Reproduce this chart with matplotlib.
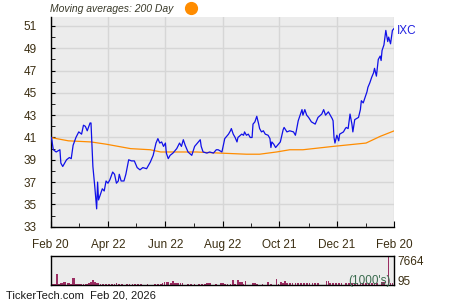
import numpy as np
import matplotlib
matplotlib.use('Agg')
import matplotlib.pyplot as plt
from matplotlib.lines import Line2D

plt.rcParams['font.family'] = ['Liberation Sans', 'DejaVu Sans']

start = np.datetime64('2025-02-20')

# closing price (days after start, price)
price_days = [1, 3, 6, 10, 11, 13, 17, 20, 22, 24, 27, 30, 33, 35, 37, 39, 42, 43, 45, 47,
              49, 50, 51, 53, 55, 57, 59, 61, 63, 66, 68, 70, 72, 73, 75, 78, 80, 83, 86, 89,
              92, 95, 98, 102, 106, 109, 112, 114, 116, 118, 120, 122, 123, 125, 127, 130, 134, 137, 139, 141,
              143, 146, 150, 153, 156, 159, 160, 162, 166, 169, 173, 176, 178, 182, 185, 189, 191, 192, 194, 196,
              198, 199, 203, 205, 206, 208, 210, 212, 214, 215, 217, 219, 221, 222, 224, 226, 228, 231, 233, 234,
              235, 237, 239, 242, 244, 247, 248, 251, 254, 258, 260, 261, 263, 267, 268, 270, 272, 274, 277, 281,
              284, 288, 290, 292, 295, 299, 300, 301, 302, 304, 306, 307, 311, 313, 314, 316, 318, 320, 321, 323,
              325, 327, 329, 330, 332, 334, 336, 337, 339, 341, 343, 344, 346, 348, 350, 351, 352, 354, 356, 358,
              359, 361, 363, 365]
price = [41.0, 39.9, 39.7, 39.9, 38.7, 38.4, 39.0, 39.2, 39.1, 40.3, 41.0, 41.5, 41.3, 42.1, 42.0, 41.6, 42.3, 42.3, 38.4, 36.6,
         34.6, 37.0, 35.4, 35.9, 36.4, 36.2, 37.1, 36.9, 37.2, 37.9, 37.7, 36.9, 37.1, 37.7, 37.1, 37.1, 37.7, 39.0, 38.9, 38.9,
         38.3, 38.1, 38.3, 38.2, 38.8, 39.4, 40.5, 40.9, 40.5, 40.6, 40.2, 40.5, 39.6, 39.1, 39.4, 39.6, 40.0, 40.5, 40.2, 40.8,
         40.3, 39.7, 39.4, 40.2, 40.5, 40.8, 40.2, 39.7, 39.6, 39.7, 39.6, 39.9, 39.9, 39.7, 40.9, 41.3, 41.6, 41.8, 41.3, 41.0,
         40.6, 41.0, 41.3, 41.2, 41.5, 41.2, 41.3, 41.0, 41.0, 42.2, 42.4, 42.9, 42.2, 41.8, 41.5, 41.6, 41.3, 41.2, 40.9, 40.1,
         40.6, 40.4, 40.1, 40.4, 40.6, 41.7, 41.9, 41.5, 41.6, 41.5, 41.2, 41.6, 42.5, 43.5, 43.0, 43.5, 43.0, 42.8, 42.4, 42.2,
         42.8, 43.1, 43.5, 43.0, 43.3, 42.7, 42.5, 41.0, 40.5, 41.2, 40.7, 41.3, 41.5, 41.8, 41.9, 41.8, 43.1, 42.2, 41.5, 42.6,
         42.7, 42.8, 43.5, 44.3, 44.1, 44.6, 45.1, 45.5, 45.9, 46.4, 46.8, 47.2, 46.5, 48.0, 48.3, 47.9, 48.8, 49.3, 50.6, 49.6,
         50.0, 49.4, 50.6, 50.8]

# 200 day moving average
ma_days = [0, 19, 43, 59, 85, 106, 117, 155, 180, 208, 222, 240, 254, 268, 300, 335, 350, 365]
ma = [41.0, 40.7, 40.6, 40.4, 40.0, 39.9, 39.7, 39.7, 39.6, 39.5, 39.5, 39.7, 39.9, 39.9, 40.2, 40.5, 41.1, 41.6]

# volume in thousands
vol_days = [0, 2, 4, 6, 7, 9, 11, 13, 14, 16, 18, 20, 22, 24, 25, 27, 29, 31, 33, 35,
            37, 39, 41, 43, 45, 47, 49, 51, 53, 56, 59, 62, 65, 68, 70, 73, 76, 81, 84, 87,
            90, 93, 96, 103, 111, 114, 117, 119, 121, 123, 125, 128, 130, 132, 134, 136, 138, 140, 146, 149,
            153, 158, 161, 164, 166, 168, 170, 176, 181, 183, 185, 188, 191, 194, 196, 199, 201, 203, 205, 207,
            215, 217, 219, 225, 231, 234, 240, 242, 245, 247, 249, 251, 254, 257, 260, 263, 266, 269, 272, 275,
            278, 281, 284, 293, 295, 297, 300, 303, 306, 309, 314, 317, 320, 323, 326, 329, 332, 335, 338, 341,
            344, 347, 352, 354, 359, 361, 363]
volume = [250, 250, 250, 250, 2800, 250, 600, 650, 850, 700, 600, 550, 250, 1800, 1800, 250, 250, 250, 250, 250,
          250, 250, 400, 850, 1200, 900, 600, 550, 250, 250, 250, 250, 250, 250, 400, 250, 250, 250, 250, 250,
          250, 250, 250, 250, 250, 250, 250, 500, 900, 900, 900, 500, 1000, 400, 550, 550, 400, 400, 250, 250,
          250, 250, 250, 250, 400, 400, 400, 250, 400, 400, 250, 250, 250, 1400, 300, 1200, 750, 750, 300, 1000,
          500, 500, 300, 250, 750, 250, 1700, 300, 750, 600, 950, 550, 500, 600, 450, 550, 600, 500, 550, 450,
          550, 600, 500, 950, 950, 450, 450, 400, 500, 450, 550, 500, 600, 550, 450, 550, 600, 500, 550, 600,
          500, 400, 750, 750, 7664, 400, 400]

tick_dates = ['2025-02-20', '2025-04-22', '2025-06-22', '2025-08-22', '2025-10-21', '2025-12-21', '2026-02-20']
tick_labels = ['Feb 20', 'Apr 22', 'Jun 22', 'Aug 22', 'Oct 21', 'Dec 21', 'Feb 20']
minor_dates = ['2025-03-22', '2025-05-22', '2025-07-22', '2025-09-21', '2025-11-21', '2026-01-21']
y_ticks = [33, 35, 37, 39, 41, 43, 45, 47, 49, 51]

txt = '#3b2e12'

fig = plt.figure(figsize=(4.5, 3), dpi=100)
ax = fig.add_axes([50.5 / 450, 73.3 / 300, 343.8 / 450, 210 / 300])
ax.set_facecolor('#ececec')

x_price = start + np.array(price_days).astype('timedelta64[D]')
x_ma = start + np.array(ma_days).astype('timedelta64[D]')
ax.plot(x_ma, ma, color='#ff8c00', lw=0.9, zorder=3)
ax.plot(x_price, price, color='#1010e8', lw=0.9, zorder=4)

ax.set_xlim(np.datetime64(tick_dates[0]), np.datetime64(tick_dates[-1]))
ax.set_ylim(33, 51.83)
ax.set_xticks([np.datetime64(d) for d in tick_dates])
ax.set_xticklabels(tick_labels)
ax.set_xticks([np.datetime64(d) for d in minor_dates], minor=True)
ax.set_yticks(y_ticks)
ax.set_yticks(np.arange(34, 52, 2), minor=True)
ax.grid(True, which='major', color='#d6d6d6', lw=1)
ax.set_axisbelow(True)
for s in ['top', 'right']:
    ax.spines[s].set_visible(False)
for s in ['left', 'bottom']:
    ax.spines[s].set_color('black')
    ax.spines[s].set_linewidth(1)
ax.tick_params(which='both', direction='in', colors='black', labelcolor=txt, labelsize=8.5)
ax.tick_params(axis='x', which='major', length=4, pad=9)
ax.tick_params(axis='x', which='minor', length=3)
ax.tick_params(axis='y', which='major', length=3, pad=10)
ax.tick_params(axis='y', which='minor', length=3)

# volume panel
vax = fig.add_axes([50.5 / 450, 15 / 300, 343.8 / 450, 29 / 300])
vax.set_facecolor('#ececec')
x_vol = start + np.array(vol_days).astype('timedelta64[D]')
vax.bar(x_vol, volume, width=1.8, color='#9b2d62', align='center')
vax.set_xlim(np.datetime64(tick_dates[0]), np.datetime64(tick_dates[-1]))
vax.set_ylim(0, max(volume))
vax.set_xticks([])
vax.set_yticks([])
for s in vax.spines.values():
    s.set_color('black')
    s.set_linewidth(1)
vax.text(1.008, 0.8, str(max(volume)), transform=vax.transAxes, fontsize=8.5, color=txt, va='center', ha='left')
vax.text(1.008, 0.12, '95', transform=vax.transAxes, fontsize=8.5, color=txt, va='center', ha='left')
vax.text(0.99, 0.15, "(1000's)", transform=vax.transAxes, fontsize=8.5, color='#3a6b4e', va='center', ha='right')

fig.text(50 / 450, 1 - 9 / 300, 'Moving averages: 200 Day', fontsize=7.5, style='italic', color='#3a3a2a',
         ha='left', va='center')
fig.add_artist(Line2D([191 / 450], [1 - 8 / 300], marker='o', markersize=8.5, color='#ff8c00',
                      transform=fig.transFigure))
fig.text(397 / 450, 1 - 31 / 300, 'IXC', fontsize=8.5, color='#2020e0', ha='left', va='center')
fig.text(6 / 450, 1 - 295 / 300, 'TickerTech.com  Feb 20, 2026', fontsize=8, color='#1a1a1a',
         ha='left', va='center')

fig.savefig('out.png', dpi=100)
